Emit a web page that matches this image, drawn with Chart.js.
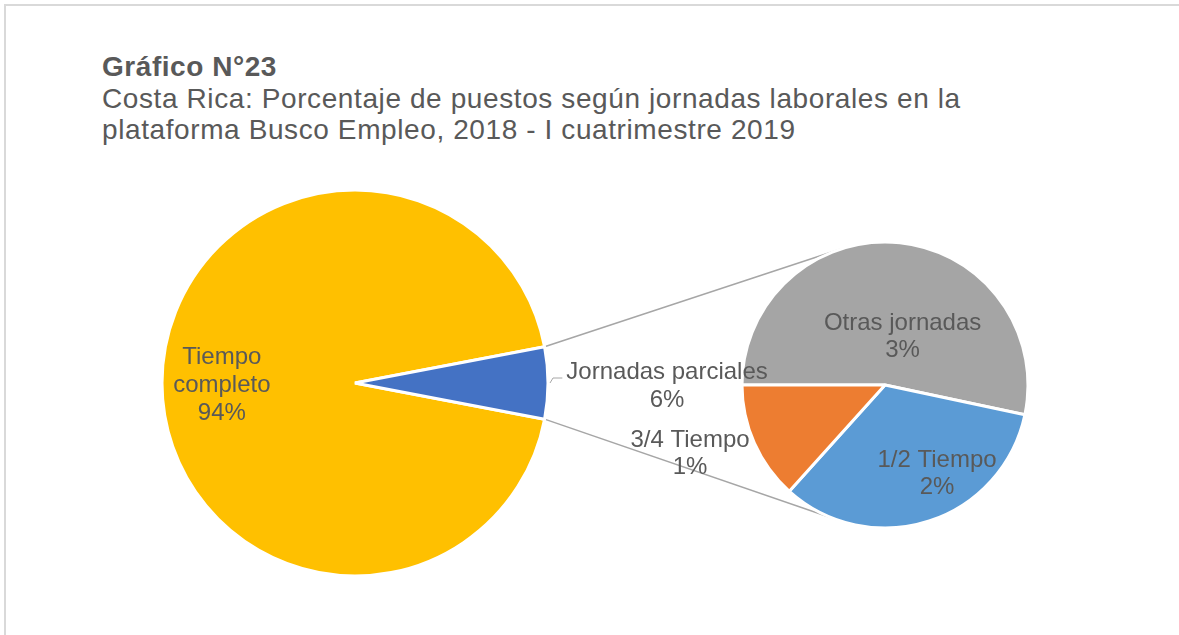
<!DOCTYPE html>
<html>
<head>
<meta charset="utf-8">
<script src="https://cdn.jsdelivr.net/npm/chart.js@4.4.1/dist/chart.umd.min.js"></script>
<style>
    body { margin: 0; background: #fff; }
    #wrap { position: relative; width: 1179px; height: 635px; overflow: hidden; font-family: "Liberation Sans", Arial, sans-serif; color: #595959; }
    #frame { position: absolute; left: 4px; top: 4px; width: 1300px; height: 700px; border-left: 2px solid #d9d9d9; border-top: 2px solid #d9d9d9; }
    #title { position: absolute; left: 102px; top: 51px; font-size: 28px; line-height: 31px; letter-spacing: 0.55px; font-weight: bold; white-space: nowrap; }
    #subtitle { position: absolute; left: 102px; top: 83px; font-size: 28px; line-height: 31px; letter-spacing: 0.6px; white-space: nowrap; }
    canvas { position: absolute; left: 0; top: 0; }
    #idChartMain { z-index: 2; }
    #idChartDetail { z-index: 1; }
</style>
</head>
<body>
<div id="wrap">
    <div id="frame"></div>
    <div id="title">Gráfico N°23</div>
    <div id="subtitle">Costa Rica: Porcentaje de puestos según jornadas laborales en la<br>plataforma Busco Empleo, 2018 - I cuatrimestre 2019</div>
    <canvas id="idChartMain" width="1179" height="635"></canvas>
    <canvas id="idChartDetail" width="1179" height="635"></canvas>
</div>
<script>
// main pie
var aMainLabels = [['Tiempo', 'completo'], 'Jornadas parciales'];
var aMainValues = [94.0, 6.0];
var aMainColors = ['#FFC000', '#4472C4'];

// breakdown of "Jornadas parciales" (percent of all posts)
var aDetailLabels = ['Otras jornadas', '1/2 Tiempo', '3/4 Tiempo'];
var aDetailValues = [3.2, 2.0, 0.8];
var aDetailColors = ['#A5A5A5', '#5B9BD5', '#ED7D31'];

// labels: name + rounded percent, placed along the slice middle
const pieLabels = {
    id: 'pieLabels',
    afterDatasetsDraw: function (chart, args, opts) {
        var ctx = chart.ctx;
        var meta = chart.getDatasetMeta(0);
        var values = chart.data.datasets[0].data;
        ctx.save();
        ctx.font = opts.font;
        ctx.fillStyle = opts.color;
        ctx.textAlign = 'center';
        ctx.textBaseline = 'middle';
        meta.data.forEach(function (arc, i) {
            var p = opts.place[i];
            var mid = (arc.startAngle + arc.endAngle) / 2;
            var a = mid + p.turn * Math.PI / 180;
            var x = arc.x + Math.cos(a) * arc.outerRadius * p.dist;
            var y = arc.y + Math.sin(a) * arc.outerRadius * p.dist + (p.dy || 0);
            var aLines = [].concat(chart.data.labels[i]);
            aLines.push(Math.round(values[i]) + '%');
            var top = y - (aLines.length - 1) * opts.lineHeight / 2;
            aLines.forEach(function (s, k) {
                ctx.fillText(s, x, top + k * opts.lineHeight);
            });
            if (p.leader) {
                var sx = arc.x + Math.cos(mid) * (arc.outerRadius + 2);
                var sy = arc.y + Math.sin(mid) * (arc.outerRadius + 2);
                var left = x - ctx.measureText(aLines[0]).width / 2;
                ctx.strokeStyle = '#A6A6A6';
                ctx.lineWidth = 1;
                ctx.beginPath();
                ctx.moveTo(sx, sy);
                ctx.lineTo(sx + 3, sy - 5);
                ctx.lineTo(left - 4, sy - 5);
                ctx.stroke();
            }
        });
        ctx.restore();
    }
};

// lines from the split slice of the main pie to the small pie
const connectors = {
    id: 'connectors',
    beforeDatasetsDraw: function (chart, args, opts) {
        var src = opts.source.getDatasetMeta(0).data[opts.index];
        var dst = chart.getDatasetMeta(0).data[0];
        var ctx = chart.ctx;
        ctx.save();
        ctx.strokeStyle = '#A6A6A6';
        ctx.lineWidth = 1.5;
        [src.startAngle, src.endAngle].forEach(function (a, k) {
            var px = src.x + Math.cos(a) * src.outerRadius;
            var py = src.y + Math.sin(a) * src.outerRadius;
            var d = Math.hypot(px - dst.x, py - dst.y);
            var base = Math.atan2(py - dst.y, px - dst.x);
            var t = Math.acos(dst.outerRadius / d);
            var b = k === 0 ? base + t : base - t;
            ctx.beginPath();
            ctx.moveTo(px, py);
            ctx.lineTo(dst.x + Math.cos(b) * dst.outerRadius, dst.y + Math.sin(b) * dst.outerRadius);
            ctx.stroke();
        });
        ctx.restore();
    }
};

function sum(a) {
    return a.reduce(function (s, v) { return s + v; }, 0);
}

// chart 1
const oChartMain = new Chart(document.getElementById('idChartMain'), {
    type: 'pie',
    data: {
        labels: aMainLabels,
        datasets: [{
            data: aMainValues,
            backgroundColor: aMainColors,
            borderColor: '#ffffff',
            borderWidth: 3
        }]
    },
    options: {
        responsive: false,
        animation: false,
        radius: 193,
        // split slice centred on the right
        rotation: 90 + aMainValues[1] / sum(aMainValues) * 180,
        layout: { padding: { left: 155, right: 624, top: 183, bottom: 52 } },
        plugins: {
            legend: { display: false },
            tooltip: { enabled: false },
            pieLabels: {
                font: '24px "Liberation Sans", Arial, sans-serif',
                color: '#595959',
                lineHeight: 28,
                place: [{ dist: 0.69, turn: 0, dy: 2 }, { dist: 1.617, turn: 0, dy: 3, leader: true }]
            }
        }
    },
    plugins: [pieLabels]
});

// chart 2
const oChartDetail = new Chart(document.getElementById('idChartDetail'), {
    type: 'pie',
    data: {
        labels: aDetailLabels,
        datasets: [{
            data: aDetailValues,
            backgroundColor: aDetailColors,
            borderColor: '#ffffff',
            borderWidth: 3
        }]
    },
    options: {
        responsive: false,
        animation: false,
        radius: 143,
        rotation: 270,
        layout: { padding: { left: 735, right: 144, top: 235, bottom: 100 } },
        plugins: {
            legend: { display: false },
            tooltip: { enabled: false },
            connectors: { source: oChartMain, index: 1 },
            pieLabels: {
                font: '24px "Liberation Sans", Arial, sans-serif',
                color: '#595959',
                lineHeight: 27,
                place: [{ dist: 0.36, turn: 14 }, { dist: 0.715, turn: -12.6, dy: 1 }, { dist: 1.444, turn: 4.8, dy: 1 }]
            }
        }
    },
    plugins: [connectors, pieLabels]
});
</script>
</body>
</html>
